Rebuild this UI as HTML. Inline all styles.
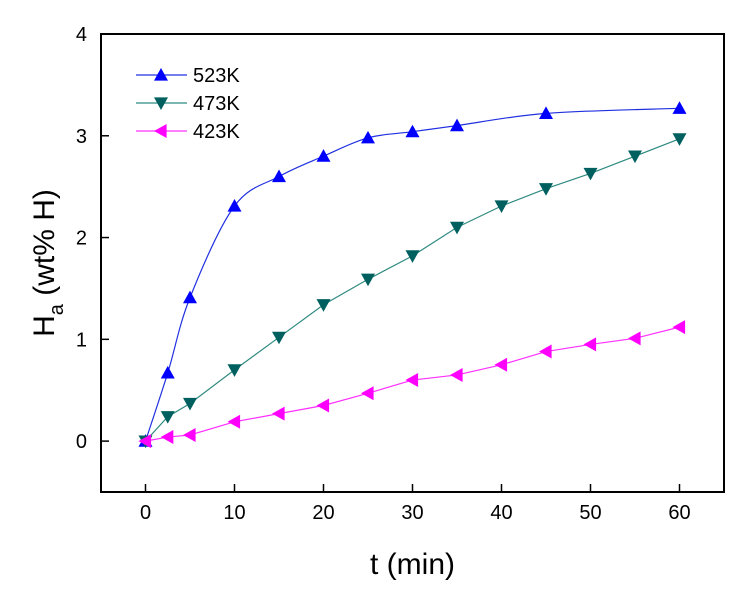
<!DOCTYPE html>
<html><head><meta charset="utf-8"><style>
body{margin:0;background:#fff;}
svg text{font-family:"Liberation Sans",Arial,sans-serif;}
</style></head><body>
<svg id="chart" width="744" height="596" xmlns="http://www.w3.org/2000/svg"></svg>
<script>
const xTicks=[0,10,20,30,40,50,60];
const yTicks=[0,1,2,3,4];
const names=["523K","473K","423K"];
const x523=[0,2.5,5,10,15,20,25,30,35,45,60];
const y523=[0,0.67,1.41,2.31,2.6,2.8,2.98,3.04,3.1,3.22,3.27];
const x473=[0,2.5,5,10,15,20,25,30,35,40,45,50,55,60];
const y473=[0,0.24,0.37,0.70,1.02,1.34,1.59,1.82,2.10,2.31,2.48,2.63,2.80,2.97];
const x423=[0,2.5,5,10,15,20,25,30,35,40,45,50,55,60];
const y423=[0,0.04,0.06,0.19,0.27,0.35,0.47,0.60,0.65,0.75,0.88,0.95,1.01,1.12];

const L=101,R=724,T=34,B=492,xmin=-5,xmax=65,ymin=-0.5,ymax=4;
const sx=v=>L+(v-xmin)/(xmax-xmin)*(R-L);
const sy=v=>B-(v-ymin)/(ymax-ymin)*(B-T);
const svg=document.getElementById('chart');
const NS="http://www.w3.org/2000/svg";
function mk(tag,attrs,parent){const e=document.createElementNS(NS,tag);for(const k in attrs)e.setAttribute(k,attrs[k]);(parent||svg).appendChild(e);return e;}

const frame=mk('rect',{x:L,y:T,width:R-L,height:B-T,fill:'none',stroke:'#000','stroke-width':2});



xTicks.forEach(v=>{
  const t=mk('line',{x1:sx(v),x2:sx(v),y1:B,y2:B-8,stroke:'#000','stroke-width':1.5});
  
  
  const l=mk('text',{x:sx(v),y:B+27,'text-anchor':'middle','font-size':20});
  l.textContent=v;
  
  
});
yTicks.forEach(v=>{
  const t=mk('line',{x1:L,x2:L+8,y1:sy(v),y2:sy(v),stroke:'#000','stroke-width':1.5});
  
  
  const l=mk('text',{x:L-14,y:sy(v)+7,'text-anchor':'end','font-size':20});
  l.textContent=v;
  
  
});

const xt=mk('text',{x:(L+R)/2,y:574,'text-anchor':'middle','font-size':30});
xt.textContent='t (min)';


const yt=mk('text',{transform:'translate(54,263) rotate(-90)','text-anchor':'middle','font-size':30});
yt.innerHTML='H<tspan font-size="20" dy="9">a</tspan><tspan dy="-9"> (wt% H)</tspan>';



function smooth(xs,ys){
  const p=xs.map((x,i)=>[sx(x),sy(ys[i])]);
  let d=`M${p[0][0]},${p[0][1]}`;
  for(let i=0;i<p.length-1;i++){
    const p0=p[i-1]||p[i],p1=p[i],p2=p[i+1],p3=p[i+2]||p2;
    d+=` C${p1[0]+(p2[0]-p0[0])/6},${p1[1]+(p2[1]-p0[1])/6} ${p2[0]-(p3[0]-p1[0])/6},${p2[1]-(p3[1]-p1[1])/6} ${p2[0]},${p2[1]}`;
  }
  return d;
}
function marker(kind,cx,cy,fill,parent){
  const s=7;let pts;
  if(kind==='up')pts=[[cx,cy-s],[cx-s,cy+s*0.8],[cx+s,cy+s*0.8]];
  else if(kind==='down')pts=[[cx,cy+s],[cx-s,cy-s*0.8],[cx+s,cy-s*0.8]];
  else pts=[[cx-s,cy],[cx+s*0.8,cy-s],[cx+s*0.8,cy+s]];
  return mk('polygon',{points:pts.map(p=>p.join(',')).join(' '),fill:fill},parent);
}
const series=[
 {xs:x523,ys:y523,line:'#2030e0',fill:'#0000ff',kind:'up',curve:true},
 {xs:x473,ys:y473,line:'#2e8a80',fill:'#006060',kind:'down',curve:false},
 {xs:x423,ys:y423,line:'#ff30ff',fill:'#ff00ff',kind:'left',curve:false}];
series.forEach((s,i)=>{
  const g=mk('g',{});
  
  
  const d=s.curve?smooth(s.xs,s.ys):'M'+s.xs.map((x,j)=>sx(x)+','+sy(s.ys[j])).join(' L');
  mk('path',{d:d,fill:'none',stroke:s.line,'stroke-width':1.2},g);
  s.xs.forEach((x,j)=>{
    const m=marker(s.kind,sx(x),sy(s.ys[j]),s.fill,g);
    
    
  });
  const ly=75+i*28;
  const lg=mk('g',{},svg);
  
  
  mk('line',{x1:136,x2:187,y1:ly,y2:ly,stroke:s.line,'stroke-width':1.2},lg);
  marker(s.kind,161,ly,s.fill,lg);
  const t=mk('text',{x:193,y:ly+7,'font-size':20},lg);
  t.textContent=names[i];
});
</script>
</body></html>
